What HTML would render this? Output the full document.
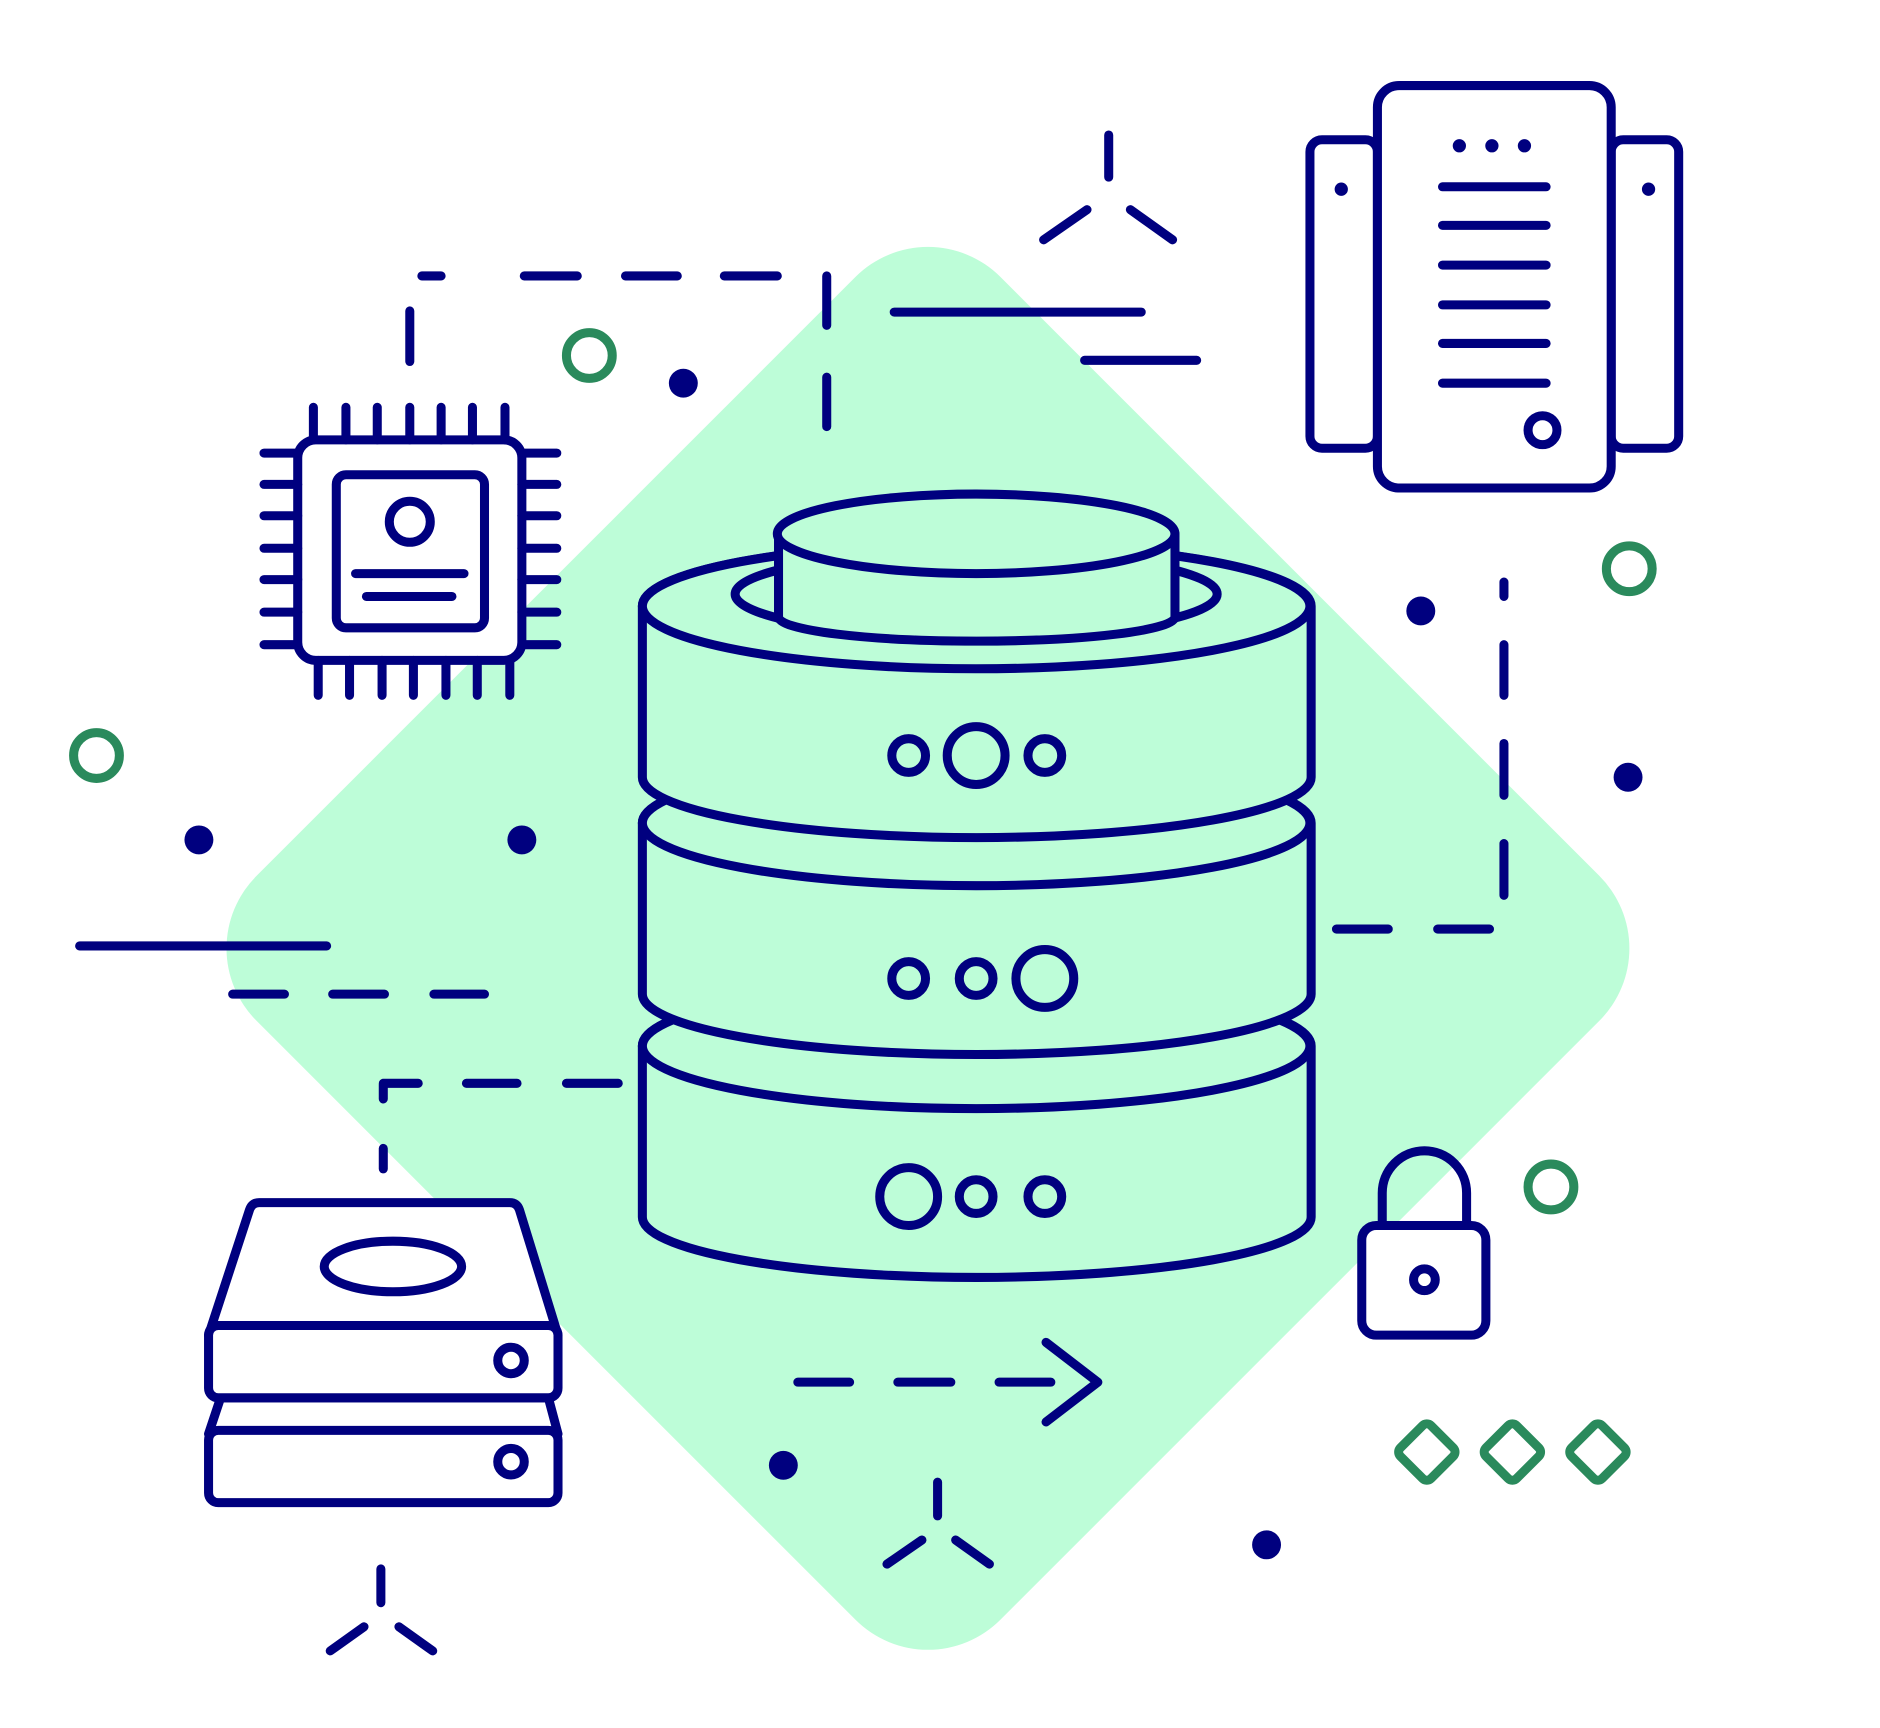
<!DOCTYPE html>
<html><head><style>html,body{margin:0;padding:0;background:#fff}svg{display:block}</style></head>
<body>
<svg width="1880" height="1728" viewBox="0 0 1560 1434" xmlns="http://www.w3.org/2000/svg">
<rect x="0" y="0" width="1560" height="1434" fill="#fff"/>
<rect x="333.5" y="350.5" width="873" height="873" rx="85" fill="#bdfdd8" transform="rotate(45 770 787)"/>
<g fill="none" stroke="#00007f" stroke-width="7.5" stroke-linecap="round" stroke-linejoin="round">
<g fill="#bdfdd8">
<path d="M533,868 L533,1010 A277,50 0 0 0 1088,1010 L1088,868 A277,52 0 0 0 533,868 Z"/>
<ellipse cx="810" cy="868" rx="277" ry="52"/>
<path d="M533,683 L533,825 A277,50 0 0 0 1088,825 L1088,683 A277,52 0 0 0 533,683 Z"/>
<ellipse cx="810" cy="683" rx="277" ry="52"/>
<path d="M533,503 L533,645 A277,50 0 0 0 1088,645 L1088,503 A277,52 0 0 0 533,503 Z"/>
<ellipse cx="810" cy="503" rx="277" ry="52"/>
<ellipse cx="810" cy="493" rx="200" ry="35"/>
<path d="M646,443 L646,512 A164,20 0 0 0 975,512 L975,443 Z"/>
<ellipse cx="810" cy="443" rx="165" ry="33"/>
</g>
<circle cx="754" cy="627" r="14"/><circle cx="810" cy="627" r="24"/><circle cx="867" cy="627" r="14"/>
<circle cx="754" cy="812" r="14"/><circle cx="810" cy="812" r="14"/><circle cx="867" cy="812" r="24"/>
<circle cx="754" cy="993" r="24"/><circle cx="810" cy="993" r="14"/><circle cx="867" cy="993" r="14"/>
<rect x="247" y="365" width="186" height="183" rx="15" fill="#fff"/>
<rect x="279" y="394" width="123" height="127" rx="8"/>
<circle cx="340" cy="433" r="17"/>
<path d="M295,476H385M304,495H375"/>
<path d="M260,338V365M287,338V365M313,338V365M340,338V365M366,338V365M392,338V365M419,338V365"/>
<path d="M264,548V577M290,548V577M317,548V577M343,548V577M370,548V577M396,548V577M423,548V577"/>
<path d="M219,376H247M219,402H247M219,428H247M219,455H247M219,481H247M219,508H247M219,535H247"/>
<path d="M433,376H462M433,402H462M433,428H462M433,455H462M433,481H462M433,508H462M433,535H462"/>
<rect x="1087" y="116" width="56" height="256" rx="10"/>
<rect x="1337" y="116" width="56" height="256" rx="10"/>
<rect x="1143" y="71" width="194" height="334" rx="18" fill="#fff"/>
<path d="M1197,155H1283M1197,187H1283M1197,220H1283M1197,253H1283M1197,285H1283M1197,318H1283"/>
<circle cx="1280" cy="357" r="12"/>
<path d="M183,1160 L173,1190 M455,1160 L463,1190 M183,1160 H455"/>
<rect x="173" y="1187" width="290" height="60" rx="8" fill="#fff"/>
<circle cx="424" cy="1213" r="11"/>
<path d="M173,1108 L207,1004 Q209,998 215,998 L423,998 Q429,998 431,1004 L463,1108" fill="#fff"/>
<ellipse cx="326" cy="1051" rx="57" ry="21"/>
<rect x="173" y="1100" width="290" height="60" rx="8" fill="#fff"/>
<circle cx="424" cy="1129" r="11"/>
<path d="M1147,1017 V990 A35,35 0 0 1 1217,990 V1017"/>
<rect x="1130" y="1017" width="103" height="91" rx="12" fill="#fff"/>
<circle cx="1182" cy="1062" r="9"/>
<path d="M340,258V300M350,229H366M435,229H479M519,229H562M601,229H645"/>
<path d="M686,229V270M686,313V354"/>
<path d="M742,259H947M900,299H993"/>
<path d="M920,112V147M866,199L902,174M938,174L973,199"/>
<path d="M1248,483V495M1248,535V577M1248,617V660M1248,700V743M1109,771H1152M1193,771H1236"/>
<path d="M66,785H271M193,825H236M276,825H319M360,825H402"/>
<path d="M318,953V970M318,900V912M318,899H347M387,899H429M470,899H513"/>
<path d="M662,1147H705M745,1147H789M829,1147H872M868,1114L911,1147L868,1180"/>
<path d="M778,1230V1258M736,1298L765,1278M793,1278L821,1298"/>
<path d="M316,1302V1330M274,1370L302,1350M331,1350L359,1370"/>
</g>
<g fill="#00007f">
<circle cx="1211" cy="121" r="5.5"/><circle cx="1238" cy="121" r="5.5"/><circle cx="1265" cy="121" r="5.5"/>
<circle cx="1113" cy="157" r="5.5"/><circle cx="1368" cy="157" r="5.5"/>
<circle cx="567" cy="318" r="12"/><circle cx="1179" cy="507" r="12"/><circle cx="1351" cy="645" r="12"/>
<circle cx="165" cy="697" r="12"/><circle cx="433" cy="697" r="12"/><circle cx="650" cy="1216" r="12"/>
<circle cx="1051" cy="1282" r="12"/>
</g>
<g fill="none" stroke="#2a8a5c" stroke-width="7.5" stroke-linejoin="round">
<circle cx="489" cy="295" r="19"/><circle cx="1352" cy="472" r="19"/>
<circle cx="80" cy="627" r="19"/><circle cx="1287" cy="985" r="19"/>
<rect x="1166" y="1187" width="36" height="36" rx="5" transform="rotate(45 1184 1205)"/>
<rect x="1237" y="1187" width="36" height="36" rx="5" transform="rotate(45 1255 1205)"/>
<rect x="1308" y="1187" width="36" height="36" rx="5" transform="rotate(45 1326 1205)"/>
</g>
</svg>
</body></html>
